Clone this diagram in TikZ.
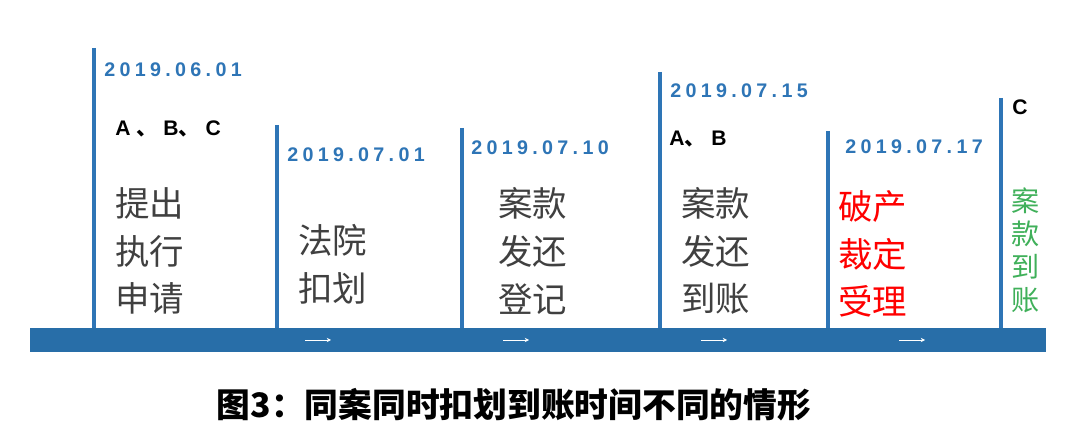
\documentclass[tikz,border=0pt]{standalone}
\usepackage{fontspec}
\usepackage{tikz}
\usetikzlibrary{arrows.meta}
\setmainfont{Liberation Sans}
\newfontfamily\cjk{Noto Sans CJK SC}
\newfontfamily\datefont[LetterSpace=22]{Liberation Sans Bold}
\definecolor{barblue}{RGB}{40,110,168}
\definecolor{tickblue}{RGB}{46,117,182}
\definecolor{dateblue}{RGB}{46,117,182}
\definecolor{textgray}{RGB}{64,64,64}
\definecolor{okgreen}{RGB}{64,176,90}
\newcommand{\dun}{{\cjk 、}}
\newcommand{\datenode}[4]{\node[datelabel] (#1) at (#2,#3) {#4};}
\tikzset{
  tickline/.style={draw=tickblue, line width=2.8pt},
  datelabel/.style={anchor=west, inner sep=0pt, text=dateblue, font=\datefont\fontsize{14}{16}\selectfont},
  partylabel/.style={anchor=west, inner sep=0pt, font=\bfseries\fontsize{15}{17}\selectfont},
  steptext/.style={anchor=west, inner sep=0pt, align=left, text=textgray, font=\cjk\fontsize{24.5}{34}\selectfont},
  flowarrow/.style={draw=white, line width=0.6pt, -{Stealth[length=3pt,width=3pt]}}
}
\begin{document}
\begin{tikzpicture}[x=0.025cm, y=-0.025cm]
\useasboundingbox (0,0) rectangle (1080,432);
% timeline bar
\fill[barblue] (30,328) rectangle (1046,352);
\foreach \x/\top [count=\i] in {94/48,277/125,462/128,660/72,828/131,1001/98}{
  \coordinate (top\i) at (\x,\top);
  \coordinate (foot\i) at (\x,328);
  \draw[tickline] (top\i) -- (foot\i);
}
\foreach \x [count=\i] in {318,516,714,912}{
  \coordinate (from\i) at (\x-13,340);
  \coordinate (to\i) at (\x+13,340);
  \draw[flowarrow] (from\i) -- (to\i);
}
% dates
\datenode{date1}{104}{70}{2019.06.01}
\datenode{date2}{287}{155}{2019.07.01}
\datenode{date3}{471}{148}{2019.07.10}
\datenode{date4}{670}{91}{2019.07.15}
\datenode{date5}{845}{147}{2019.07.17}
% parties
\node[partylabel] (abc) at (115,129) {A \dun{} B\dun{} C};
\node[partylabel] (ab) at (669,139) {A\dun{} B};
\node[partylabel] (c) at (1012,107) {C};
% steps
\node[steptext] (apply) at (115,251) {提出\\执行\\申请};
\node[steptext] (court) at (298,264) {法院\\扣划};
\node[steptext] (record) at (498,251) {案款\\发还\\登记};
\node[steptext] (paidab) at (681,251) {案款\\发还\\到账};
\node[steptext, text=red] (bankrupt) at (838,254) {破产\\裁定\\受理};
\node[steptext, text=okgreen, font=\cjk\fontsize{20}{23.4}\selectfont] (paidc) at (1011,250) {案\\款\\到\\账};
% caption
\node[font=\cjk\bfseries\fontsize{24}{28}\selectfont] (caption) at (514,405) {图3：同案同时扣划到账时间不同的情形};
\end{tikzpicture}
\end{document}
